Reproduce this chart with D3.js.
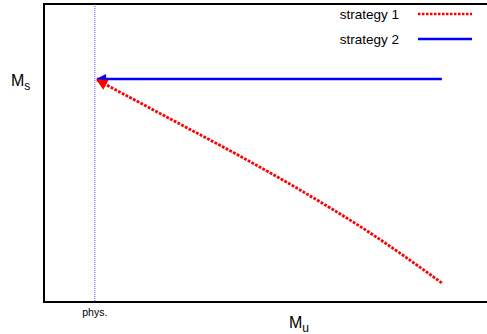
<!DOCTYPE html>
<html>
<head>
<meta charset="utf-8">
<script src="https://cdn.jsdelivr.net/npm/d3@7"></script>
<style>
  body { margin: 0; background: #fff; }
  svg { display: block; font-family: "Liberation Sans", Arial, sans-serif; }
</style>
</head>
<body>
<svg id="chart" width="487" height="334"></svg>
<script>
// values, in arbitrary 0..100 units
var physX = 11.4;
var strategy1X = [89.2, 73.1, 57.4, 43.9, 30.5, 11.9];
var strategy1Y = [6.4, 23.2, 37.6, 49.0, 59.7, 74.5];
var strategy2X = [89.2, 11.9];
var strategy2Y = [74.8, 74.8];
var seriesNames = ["strategy 1", "strategy 2"];

var svg = d3.select("#chart");
var margin = { top: 4, right: -3, bottom: 32, left: 44 };
var width = 487, height = 334;

var x = d3.scaleLinear().domain([0, 100]).range([margin.left, width - margin.right]);
var y = d3.scaleLinear().domain([0, 100]).range([height - margin.bottom, margin.top]);

var defs = svg.append("defs");
defs.append("marker")
  .attr("id", "arrBlue")
  .attr("viewBox", "0 0 10 10").attr("refX", 9).attr("refY", 5)
  .attr("markerWidth", 5).attr("markerHeight", 4)
  .attr("orient", "auto")
  .append("path").attr("d", "M0,0 L10,5 L0,10 Z").attr("fill", "#0000ff");
defs.append("marker")
  .attr("id", "arrRed")
  .attr("viewBox", "0 0 10 10").attr("refX", 9).attr("refY", 5)
  .attr("markerWidth", 5).attr("markerHeight", 4)
  .attr("orient", "auto")
  .append("path").attr("d", "M0,0 L10,5 L0,10 Z").attr("fill", "#ff0000");

// frame: left, top, bottom (right side is off the page)
svg.append("path")
  .attr("d", "M" + (width + 2) + "," + y(100) + " L" + x(0) + "," + y(100) +
        " L" + x(0) + "," + y(0) + " L" + (width + 2) + "," + y(0))
  .attr("fill", "none").attr("stroke", "#000").attr("stroke-width", 2);

// phys. marker line
svg.append("line")
  .attr("x1", x(physX)).attr("x2", x(physX))
  .attr("y1", y(100)).attr("y2", y(0))
  .attr("stroke", "#0000ff").attr("stroke-width", 1)
  .attr("stroke-dasharray", "1,1").attr("opacity", 0.7);

var line = d3.line().x(d => x(d[0])).y(d => y(d[1])).curve(d3.curveMonotoneX);

svg.append("path")
  .datum(strategy2X.map((v, i) => [v, strategy2Y[i]]))
  .attr("d", d3.line().x(d => x(d[0])).y(d => y(d[1])))
  .attr("fill", "none").attr("stroke", "#0000ff").attr("stroke-width", 2.5)
  .attr("marker-end", "url(#arrBlue)");

svg.append("path")
  .datum(strategy1X.map((v, i) => [v, strategy1Y[i]]))
  .attr("d", line)
  .attr("fill", "none").attr("stroke", "#ff0000").attr("stroke-width", 2.8)
  .attr("stroke-dasharray", "2.8,1.4")
  .attr("marker-end", "url(#arrRed)");

// legend
var legend = svg.append("g");
seriesNames.forEach(function(name, i) {
  var ly = 14 + i * 25;
  legend.append("text")
    .attr("x", 399).attr("y", ly + 5)
    .attr("text-anchor", "end")
    .style("font-size", "13.5px")
    .text(name);
  legend.append("line")
    .attr("x1", 418).attr("x2", 472)
    .attr("y1", ly).attr("y2", ly)
    .attr("stroke", i == 0 ? "#ff0000" : "#0000ff")
    .attr("stroke-width", 2.5)
    .attr("stroke-dasharray", i == 0 ? "2.5,1.5" : null);
});

// labels
var ms = svg.append("text").attr("x", 11).attr("y", 86).style("font-size", "16px");
ms.append("tspan").text("M");
ms.append("tspan").attr("dy", 4).style("font-size", "12px").text("s");

var mu = svg.append("text").attr("x", 289).attr("y", 328).style("font-size", "16px");
mu.append("tspan").text("M");
mu.append("tspan").attr("dy", 4).style("font-size", "12px").text("u");

svg.append("text")
  .attr("x", x(physX)).attr("y", 316)
  .attr("text-anchor", "middle")
  .style("font-size", "10.5px")
  .text("phys.");
</script>
</body>
</html>
